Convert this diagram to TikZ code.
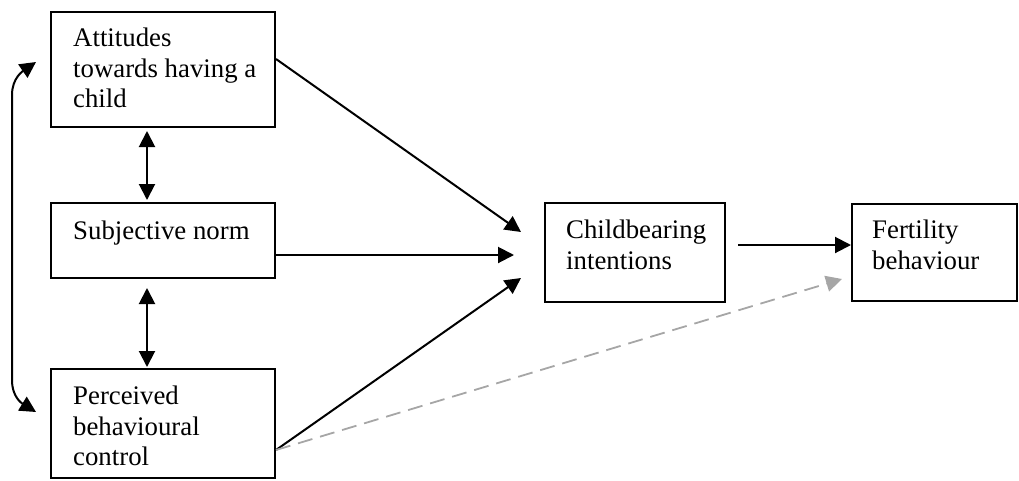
\documentclass[tikz,border=0pt]{standalone}
\usepackage{fontspec}
\setmainfont{Liberation Serif}
\usetikzlibrary{arrows.meta,calc}
\definecolor{dashgray}{RGB}{166,166,166}
\begin{document}
\begin{tikzpicture}[x=1pt,y=-1pt,
  box/.style={draw, line width=2pt, inner sep=0pt},
  lbl/.style={anchor=north west, align=left, inner sep=0pt, font=\fontsize{26.8}{30.5}\selectfont},
  arr/.style={line width=2pt, -{Triangle[length=16pt,width=16pt]}},
  darr/.style={line width=2pt, {Triangle[length=16pt,width=16pt]}-{Triangle[length=16pt,width=16pt]}},
  grayarr/.style={line width=1.8pt, dashgray, dash pattern=on 15pt off 8pt, -{Triangle[length=16pt,width=16pt]}}]
\useasboundingbox (0,0) rectangle (1019,480);
% boxes
\node[box, minimum width=224pt, minimum height=115pt] (A) at (163,69.5) {};
\node[box, minimum width=224pt, minimum height=75pt] (S) at (163,240.5) {};
\node[box, minimum width=224pt, minimum height=109pt] (P) at (163,423.5) {};
\node[box, minimum width=180pt, minimum height=99pt] (C) at (635,252.5) {};
\node[box, minimum width=165pt, minimum height=97pt] (F) at (934.5,252.5) {};
% labels
\node[lbl] (tA) at (73,28) {Attitudes\\towards having a\\child};
\node[lbl] (tS) at (73,221) {Subjective norm};
\node[lbl] (tP) at (73,386) {Perceived\\behavioural\\control};
\node[lbl] (tC) at (566,220) {Childbearing\\intentions};
\node[lbl] (tF) at (872,220) {Fertility\\behaviour};
% arrows to childbearing intentions
\draw[arr] ($(A.north east)+(0,48)$) -- ($(C.west)+(-23,-20.5)$);
\draw[arr] ($(S.east)+(0,14.5)$) -- ($(C.west)+(-30,2.5)$);
\draw[arr] ($(P.east)+(0,26.5)$) -- ($(C.west)+(-23,25.5)$);
% intentions -> behaviour
\draw[arr] ($(C.east)+(12,-7.5)$) -- ($(F.west)+(0,-7.5)$);
% dashed direct path
\draw[grayarr] ($(P.east)+(0,26.5)$) -- ($(F.west)+(-9,26.5)$);
% vertical double arrows
\draw[darr] ($(A.south)+(-16,3)$) -- ($(S.north)+(-16,-2)$);
\draw[darr] ($(S.south)+(-16,9)$) -- ($(P.north)+(-16,-1)$);
% left curved double arrow
\draw[darr] ($(A.west)+(-14,-7.5)$) .. controls (23,71) and (12,78) .. (12,95)
  -- (12,380) .. controls (12,398) and (23,404) .. ($(P.west)+(-14,-11.5)$);
\end{tikzpicture}
\end{document}
